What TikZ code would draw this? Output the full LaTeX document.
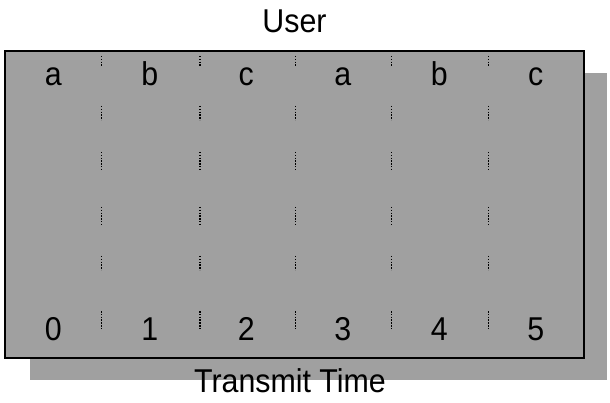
\documentclass[tikz,border=0pt]{standalone}
\usepackage{fontspec}
\setmainfont[FakeStretch=0.92]{Liberation Sans}
\definecolor{boxgray}{RGB}{160,160,160}
\begin{document}
\begin{tikzpicture}[x=1pt,y=-1pt,
  lbl/.style={anchor=base,inner sep=0pt,font=\fontsize{33}{38}\selectfont},
  dots/.style={line width=1.5pt,dash pattern=on 1.5pt off 1.3pt,color=black}]
\useasboundingbox (0,0) rectangle (610,403);
% shadow
\fill[boxgray] (30,73) rectangle (607,380);
% main box
\filldraw[fill=boxgray,draw=black,line width=1.3pt] (5,51) rectangle (584,358);
% titles
\node[lbl] (user) at (294.5,32.7) {User};
\node[lbl] (tt) at (290,392) {Transmit Time};
% letters and digits
\foreach \l [count=\i from 0] in {a,b,c,a,b,c} {
  \node[lbl] (L\i) at ({53.3+96.5*\i},85.5) {\l};
  \node[lbl] (D\i) at ({53.3+96.5*\i},340) {\i};
}
% dotted separators
\foreach \x in {101.7,200,295.7,391.7,488.3} {
  \foreach \a/\b in {56/66,106/120,152/170,207/224,256/270,311/329} {
    \draw[dots] (\x,\a) -- (\x,\b);
  }
}
\end{tikzpicture}
\end{document}
